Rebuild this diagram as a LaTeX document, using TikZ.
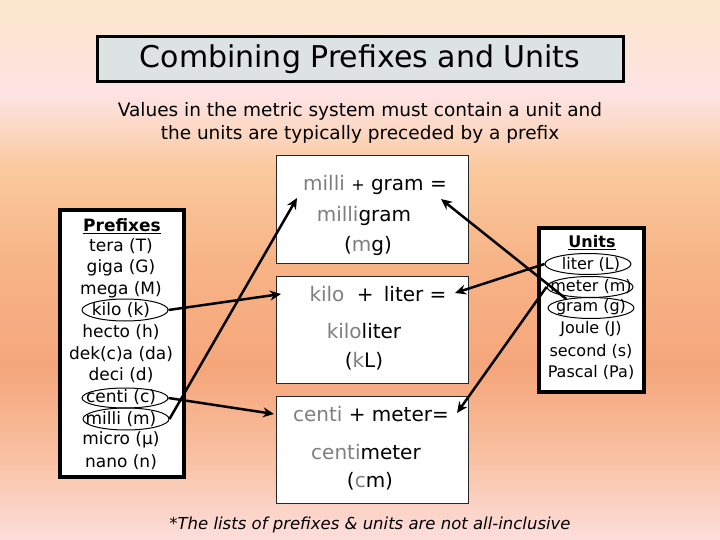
\documentclass[tikz,border=0pt]{standalone}
\usepackage{fontspec}
\setmainfont{DejaVu Sans}
\usetikzlibrary{shapes.geometric,arrows.meta}
\definecolor{bgA}{HTML}{FBE7CB}
\definecolor{bgB}{HTML}{FDE3E3}
\definecolor{bgC}{HTML}{FAC99C}
\definecolor{bgD}{HTML}{F7B486}
\definecolor{bgE}{HTML}{F5A67B}
\definecolor{bgF}{HTML}{F9C2A4}
\definecolor{bgG}{HTML}{FDDEDC}
\definecolor{titlefill}{HTML}{DDE3E3}
\definecolor{pre}{HTML}{7F7F7F}
\newcommand{\fs}[1]{\fontsize{#1}{#1}\selectfont}
\begin{document}
\begin{tikzpicture}[x=1pt,y=-1pt,
  item/.style={inner sep=0pt, font=\fs{17}},
  uitem/.style={inner sep=0pt, font=\fs{16}},
  ring/.style={ellipse, draw, line width=1pt, minimum width=86pt, minimum height=22pt, inner sep=0pt},
  listbox/.style={draw, fill=white, line width=3.5pt, inner sep=0pt},
  eqbox/.style={draw=black!85, fill=white, line width=0.9pt, inner sep=0pt, minimum width=192pt},
  eqtxt/.style={inner sep=0pt, font=\fs{20}},
  arr/.style={line width=2.5pt, -{Stealth[length=11pt,width=10pt]}}]
\useasboundingbox (0,0) rectangle (720,540);
% background
\fill[top color=bgA,bottom color=bgB] (0,0) rectangle (720,95.5);
\fill[top color=bgB,bottom color=bgC] (0,95) rectangle (720,170.5);
\fill[top color=bgC,bottom color=bgD] (0,170) rectangle (720,260.5);
\fill[top color=bgD,bottom color=bgE] (0,260) rectangle (720,370.5);
\fill[top color=bgE,bottom color=bgF] (0,370) rectangle (720,460.5);
\fill[top color=bgF,bottom color=bgG] (0,460) rectangle (720,540);
% title
\node[draw, line width=3pt, fill=titlefill, minimum width=526pt, minimum height=45pt, font=\fs{30}] (title) at (360,59) {Combining Prefixes and Units};
\node[align=center, font=\fs{18.5}] (sub) at (360,123) {Values in the metric system must contain a unit and\\[5pt]the units are typically preceded by a prefix};
% prefixes
\node[listbox, minimum width=124pt, minimum height=267pt] (prefbox) at (122,343.5) {};
\node[item, font=\bfseries\fs{17}] (ph) at (122,226) {\underline{Prefixes}};
\node[item] (tera) at (121,246) {tera (T)};
\node[item] (giga) at (121,268) {giga (G)};
\node[item] (mega) at (121,290) {mega (M)};
\node[item] (kilo) at (121,310) {kilo (k)};
\node[item] (hecto) at (121,332) {hecto (h)};
\node[item] (deka) at (121,354) {dek(c)a (da)};
\node[item] (deci) at (121,375) {deci (d)};
\node[item] (centi) at (121,397) {centi (c)};
\node[item] (milli) at (121,419) {milli (m)};
\node[item] (micro) at (121,440) {micro (μ)};
\node[item] (nano) at (121,462) {nano (n)};
\node[ring] (kiloE) at (125,310) {};
\node[ring, minimum height=20pt] (centiE) at (125,398) {};
\node[ring] (milliE) at (126,419) {};
% units
\node[listbox, line width=4pt, minimum width=105pt, minimum height=163pt] (unitbox) at (591.5,310) {};
\node[uitem, font=\bfseries\fs{16}] (uh) at (592,243) {\underline{Units}};
\node[uitem] (liter) at (591,264) {liter (L)};
\node[uitem] (meter) at (591,286) {meter (m)};
\node[uitem] (gram) at (591,307) {gram (g)};
\node[uitem] (joule) at (591,329) {Joule (J)};
\node[uitem] (second) at (591,351) {second (s)};
\node[uitem] (pascal) at (591,372) {Pascal (Pa)};
\node[ring, minimum height=21pt] (literE) at (588,264) {};
\node[ring, minimum height=21pt] (meterE) at (590,287) {};
\node[ring, minimum height=21pt] (gramE) at (591,308) {};
% equation boxes
\node[eqbox, minimum height=108pt] (b1) at (372,209.5) {};
\node[eqbox, minimum height=107pt] (b2) at (372,329.5) {};
\node[eqbox, minimum height=107pt] (b3) at (372,449.5) {};
\node[eqtxt] (b1a) at (375,185) {\textcolor{pre}{milli} {\fs{16}+} gram =};
\node[eqtxt] (b1b) at (364,216) {\textcolor{pre}{milli}gram};
\node[eqtxt] (b1c) at (368,246) {(\textcolor{pre}{m}g)};
\node[eqtxt] (b2a) at (378,294) {\textcolor{pre}{kilo}\hspace{6pt} + \hspace{4pt}liter =};
\node[eqtxt] (b2b) at (364,331) {\textcolor{pre}{kilo}liter};
\node[eqtxt] (b2c) at (364,361) {(\textcolor{pre}{k}L)};
\node[eqtxt] (b3a) at (371,414) {\textcolor{pre}{centi} + meter=};
\node[eqtxt] (b3b) at (366,452) {\textcolor{pre}{centi}meter};
\node[eqtxt] (b3c) at (370,481) {(\textcolor{pre}{c}m)};
% arrow targets
\coordinate (t1) at (297,198);
\coordinate (t2) at (281,294);
\coordinate (t3) at (274,414);
\coordinate (t4) at (441,199);
\coordinate (t5) at (455,293);
\coordinate (t6) at (457,413);
\draw[arr] (milliE.east) -- (t1);
\draw[arr] (kiloE.east) -- (t2);
\draw[arr] (centiE.east) -- (t3);
\draw[arr] (gramE.160) -- (t4);
\draw[arr] (literE.west) -- (t5);
\draw[arr] (meterE.west) -- (t6);
% footnote
\node[font=\itshape\fs{16.5}] (foot) at (370,525) {*The lists of prefixes \& units are not all-inclusive};
\end{tikzpicture}
\end{document}
